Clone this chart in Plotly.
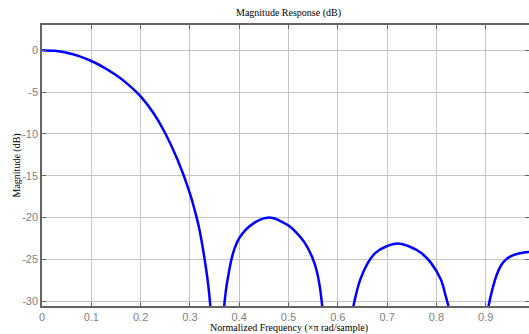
import plotly.graph_objects as go

# Main lobe
main_f = [0, 0.025, 0.05, 0.075, 0.1, 0.125, 0.15, 0.175, 0.2, 0.225, 0.25, 0.275, 0.3, 0.3137, 0.3196, 0.3297, 0.3365, 0.3412, 0.3445]
main_db = [0, -0.08, -0.32, -0.72, -1.3, -2.05, -2.98, -4.12, -5.52, -7.42, -9.92, -13.1, -17.1, -20, -21.5, -24.9, -27.7, -30.4, -33]

# Side lobe 1
lobe1_f = [0.3659, 0.3696, 0.3736, 0.379, 0.3838, 0.3905, 0.400, 0.414, 0.4297, 0.448, 0.458, 0.470, 0.4818, 0.5, 0.5155, 0.5324, 0.5493, 0.5574, 0.564, 0.5682, 0.5721]
lobe1_db = [-33, -30.5, -28.45, -26.55, -25.1, -23.7, -22.45, -21.4, -20.65, -20.12, -20.0, -20.08, -20.35, -20.95, -21.75, -22.95, -24.9, -26.4, -28.45, -30.5, -33]

# Side lobe 2
lobe2_f = [0.6246, 0.632, 0.636, 0.6455, 0.661, 0.6764, 0.698, 0.7215, 0.745, 0.7687, 0.789, 0.809, 0.819, 0.824, 0.831]
lobe2_db = [-33, -30.5, -29.4, -27.4, -25.4, -24.2, -23.45, -23.1, -23.45, -24.2, -25.4, -27.4, -29.4, -30.5, -33]

# Side lobe 3
lobe3_f = [0.899, 0.906, 0.910, 0.919, 0.926, 0.934, 0.942, 0.9505, 0.960, 0.975, 0.990, 1.0]
lobe3_db = [-33, -30.5, -29.4, -27.4, -26.3, -25.45, -24.95, -24.62, -24.4, -24.2, -24.1, -24.08]

x_ticks = [0, 0.1, 0.2, 0.3, 0.4, 0.5, 0.6, 0.7, 0.8, 0.9, 1.0]
x_tick_labels = ["0", "0.1", "0.2", "0.3", "0.4", "0.5", "0.6", "0.7", "0.8", "0.9", "1"]
y_ticks = [0, -5, -10, -15, -20, -25, -30]
y_tick_labels = ["0", "-5", "-10", "-15", "-20", "-25", "-30"]

xs, ys = [], []
for f, d in [(main_f, main_db), (lobe1_f, lobe1_db), (lobe2_f, lobe2_db), (lobe3_f, lobe3_db)]:
    xs += f + [None]
    ys += d + [None]

fig = go.Figure()
fig.add_trace(go.Scatter(x=xs, y=ys, mode="lines",
                         line=dict(color="#0000ff", width=2.5, shape="spline", smoothing=1.0),
                         connectgaps=False, hoverinfo="skip"))

axcol = "#646464"
tickfont = dict(family="Liberation Sans, Arial", size=11, color="#808080")
fig.update_layout(
    width=529, height=334,
    margin=dict(l=42, r=0, t=25, b=28, autoexpand=False),
    paper_bgcolor="white", plot_bgcolor="white",
    showlegend=False,
    xaxis=dict(range=[0, 0.9878], tickvals=x_ticks, ticktext=x_tick_labels,
               showgrid=True, gridcolor="#c4c4c4", gridwidth=1,
               showline=True, linecolor=axcol, linewidth=1.5, mirror="allticks",
               ticks="inside", ticklen=4, tickcolor=axcol, tickfont=tickfont,
               zeroline=False, automargin=False),
    yaxis=dict(range=[-30.55, 3.0], tickvals=y_ticks, ticktext=y_tick_labels,
               showgrid=True, gridcolor="#c4c4c4", gridwidth=1,
               showline=True, linecolor=axcol, linewidth=1.5, mirror="allticks",
               ticks="inside", ticklen=4, tickcolor=axcol, tickfont=tickfont,
               zeroline=False, automargin=False),
    annotations=[
        dict(text="Magnitude Response (dB)", xref="x", yref="paper", x=0.5, y=1, yshift=4,
             xanchor="center", yanchor="bottom", showarrow=False,
             font=dict(family="Liberation Serif, Times New Roman", size=10, color="black")),
        dict(text="Normalized Frequency (×π rad/sample)", xref="x", yref="paper", x=0.5, y=0, yshift=-14,
             xanchor="center", yanchor="top", showarrow=False,
             font=dict(family="Liberation Serif, Times New Roman", size=10, color="black")),
        dict(text="Magnitude (dB)", xref="paper", yref="paper", x=0, xshift=-26, y=0.5, textangle=-90,
             xanchor="center", yanchor="middle", showarrow=False,
             font=dict(family="Liberation Serif, Times New Roman", size=10, color="black")),
    ],
)

fig.write_html("out.html", config={"displayModeBar": False},
               post_script="document.body.style.margin='0';document.body.style.overflow='hidden';")
